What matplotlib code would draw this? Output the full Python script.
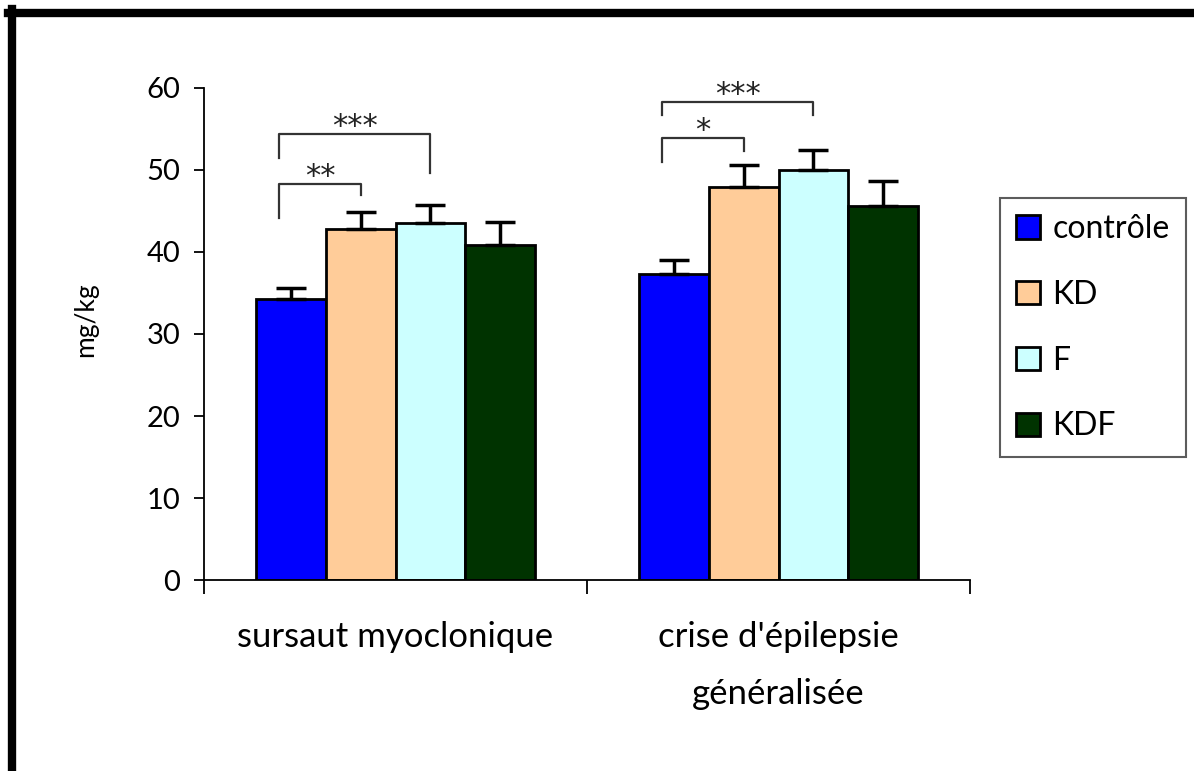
import numpy as np
import matplotlib.pyplot as plt
from matplotlib.lines import Line2D

plt.rcParams['font.family'] = ['Lato', 'DejaVu Sans']

# data
categories = ["sursaut myoclonique", "crise d'épilepsie\ngénéralisée"]
groups = ["contrôle", "KD", "F", "KDF"]
colors = ["#0000ff", "#ffcc99", "#ccffff", "#003300"]
means = np.array([[34.3, 42.8, 43.5, 40.8],
                  [37.3, 47.9, 50.0, 45.6]])
errors = np.array([[1.3, 2.1, 2.2, 2.8],
                   [1.7, 2.7, 2.4, 3.0]])

# significance brackets: (category, bar a, bar b, top y, left foot, right foot, label)
brackets = [(0, 0, 1, 48.3, 44.1, 47.0, "**"),
            (0, 0, 2, 54.4, 51.5, 49.6, "***"),
            (1, 0, 1, 53.9, 51.0, 52.3, "*"),
            (1, 0, 2, 58.3, 56.7, 56.7, "***")]

fig = plt.figure(figsize=(11.94, 7.71), dpi=100)
ax = fig.add_axes([0.1709, 0.2477, 0.6415, 0.6382])

x = np.arange(len(categories))
width = 0.1825
for i, g in enumerate(groups):
    pos = x + (i - 1.5) * width
    ax.bar(pos, means[:, i], width, color=colors[i], edgecolor='black',
           linewidth=2, label=g, zorder=2)
    ax.errorbar(pos, means[:, i], yerr=[np.zeros(len(x)), errors[:, i]],
                fmt='none', ecolor='black', elinewidth=2.5, capsize=11,
                capthick=2.5, zorder=3)

for c, a, b, top, fa, fb, lab in brackets:
    xa = c + (a - 1.5) * width - 0.03
    xb = c + (b - 1.5) * width
    ax.plot([xa, xa, xb, xb], [fa, top, top, fb], color='#333333', lw=1.6,
            clip_on=False)
    ax.text((xa + xb) / 2, top - 0.1, lab, ha='center', va='baseline',
            fontsize=22, color='#222222', family='DejaVu Sans')

ax.set_xlim(-0.5, 1.5)
ax.set_ylim(0, 60)
ax.set_yticks(np.arange(0, 61, 10))
ax.set_xticks([-0.5, 0.5, 1.5])
ax.set_xticklabels([])
ax.tick_params(axis='y', direction='out', length=7, width=1.3, labelsize=21, pad=10)
ax.tick_params(axis='x', direction='out', length=10, width=1.3)
for s in ['top', 'right']:
    ax.spines[s].set_visible(False)
for s in ['left', 'bottom']:
    ax.spines[s].set_linewidth(1.3)

for i, cat in enumerate(categories):
    ax.text(i, -5.0, cat, ha='center', va='top', fontsize=25,
            linespacing=1.95, transform=ax.transData)

ax.set_ylabel("mg/kg", fontsize=19)
ax.yaxis.set_label_coords(-0.138, 0.53)

leg = ax.legend(loc='upper left', bbox_to_anchor=(1.039, 0.776), fontsize=23,
                frameon=True, fancybox=False, edgecolor='#333333',
                handlelength=0.75, handleheight=0.75, handletextpad=0.4,
                labelspacing=1.12, borderpad=0.5, borderaxespad=0)
leg.get_frame().set_linewidth(1.5)

# cropped border of the original image
fig.add_artist(Line2D([12 / 1194, 12 / 1194], [0, 1 - 9 / 771], color='black', lw=6))
fig.add_artist(Line2D([8 / 1194, 1], [1 - 12.5 / 771, 1 - 12.5 / 771], color='black', lw=6))

fig.savefig('out.png', dpi=100)
